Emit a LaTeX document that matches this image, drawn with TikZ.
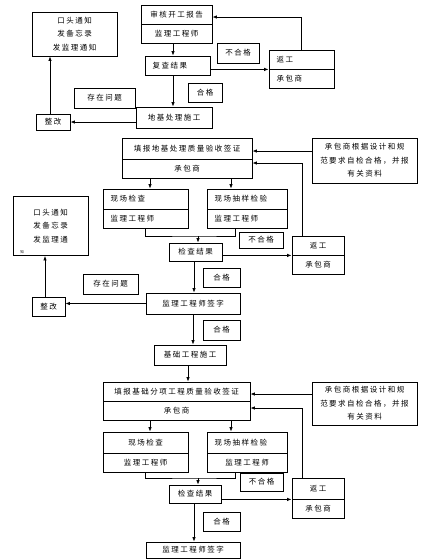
\documentclass[tikz,border=0pt]{standalone}
\usepackage{fontspec}
\newfontfamily\cjk[LetterSpace=20]{Noto Sans CJK SC}
\usepackage{tikz}
\usetikzlibrary{arrows.meta}
\tikzset{
  box/.style={draw, line width=0.8pt, inner sep=0pt, minimum height=19pt,
    font=\cjk\fontsize{7.5}{13.5}\selectfont, align=center},
  lbox/.style={box, inner xsep=7.5pt, align=left},
  flow/.style={line width=0.8pt, -{Latex[length=4.5pt,width=3.5pt]}},
  link/.style={line width=0.8pt}
}

\begin{document}
\begin{tikzpicture}[x=1pt,y=-1pt]
    \useasboundingbox (0,0) rectangle (424,560);
    \node[box, minimum width=85pt, minimum height=44pt] (tzA) at (74.5,34) {口头通知\\发备忘录\\发监理通知};
    \node[box, minimum width=71pt] (shA) at (176.5,14.5) {审核开工报告};
    \node[box, minimum width=71pt] (shB) at (176.5,33.5) {监理工程师};
    \node[lbox, text width=50pt] (fcA) at (177.5,65.5) {复查结果};
    \node[box, minimum width=42pt, minimum height=20pt] (bhgA) at (238,53) {不合格};
    \node[lbox, text width=50pt] (fgA) at (301.5,59.5) {返工};
    \node[lbox, text width=50pt] (fgB) at (301.5,78.5) {承包商};
    \node[box, minimum width=34pt] (hgA) at (205,92.5) {合格};
    \node[box, minimum width=76pt, minimum height=21pt] (djA) at (174,117.5) {地基处理施工};
    \node[box, minimum width=61pt, minimum height=20pt] (czA) at (104.5,98) {存在问题};
    \node[box, minimum width=34pt, minimum height=16pt] (zgA) at (53,122) {整改};
    \draw[flow] (shB.south -| 173,0) -- (fcA.north -| 173,0);
    \draw[flow] (fcA.east |- fgA.south west) -- (fgA.south west);
    \draw[flow] (fgA.north) |- ([yshift=-2.5pt]shA.east);
    \draw[flow] (fcA.south -| 173,0) -- (djA.north -| 173,0);
    \draw[flow] (djA.west |- zgA.east) -- (zgA.east);
    \draw[flow] (zgA.north -| 50,0) -- (tzA.south -| 50,0);

    \node[box, minimum width=130pt, minimum height=21pt] (tjA) at (187,148.5) {填报地基处理质量验收签证};
    \node[box, minimum width=130pt] (tjB) at (187,168.5) {承包商};
    \node[box, minimum width=105pt, minimum height=45pt, text width=96pt, inner xsep=4.5pt] (cbA) at (364.5,160.5) {承包商根据设计和规\\范要求自检合格，并报\\有关资料};
    \node[lbox, text width=70pt, minimum height=20pt] (xcA) at (145.5,199) {现场检查};
    \node[lbox, text width=70pt] (xcB) at (145.5,218.5) {监理工程师};
    \node[lbox, text width=65pt, minimum height=20pt] (cyA) at (247,199) {现场抽样检验};
    \node[lbox, text width=65pt] (cyB) at (247,218.5) {监理工程师};
    \node[box, minimum width=53pt, minimum height=18pt] (jcA) at (195.5,252) {检查结果};
    \node[box, minimum width=44pt, minimum height=16pt] (bhgB) at (261,240) {不合格};
    \node[box, minimum width=52pt] (fgC) at (318,245.5) {返工};
    \node[box, minimum width=52pt] (fgD) at (318,264.5) {承包商};
    \node[box, minimum width=37pt] (hgB) at (221.5,277.5) {合格};
    \node[box, minimum width=75pt, minimum height=59pt] (tzB) at (50.5,226) {口头通知\\发备忘录\\发监理通};
    \node[font=\cjk\fontsize{3.5}{4}\selectfont, inner sep=0pt] (tzBz) at (22,252) {知};
    \node[box, minimum width=55pt, minimum height=20pt] (czB) at (110.5,284) {存在问题};
    \node[box, minimum width=33pt] (zgB) at (48.5,306.5) {整改};
    \node[box, minimum width=94pt, minimum height=21pt] (qzA) at (193,303.5) {监理工程师签字};
    \node[box, minimum width=37pt, minimum height=20pt] (hgC) at (221.5,330) {合格};
    \node[box, minimum width=72pt, minimum height=20pt] (jcC) at (190,355) {基础工程施工};
    \coordinate (mgA) at (198,236);
    \draw[flow] (cbA.west |- 0,151) -- (tjA.east |- 0,151);
    \draw[flow] ([xshift=-16pt]fgC.north) |- ([yshift=5.5pt]tjB.east);
    \draw[flow] (tjB.south -| 150,0) -- (xcA.north -| 150,0);
    \draw[flow] (tjB.south -| 231,0) -- (cyA.north -| 231,0);
    \draw[link] (xcB.south -| 145,0) |- (mgA) -| (cyB.south -| 235,0);
    \draw[flow] (mgA) -- (jcA.north -| 198,0);
    \draw[flow] (jcA.east |- fgC.south west) -- (fgC.south west);
    \draw[flow] (jcA.south -| 194,0) -- (qzA.north -| 194,0);
    \draw[flow] (qzA.west) -- (qzA.west -| zgB.east);
    \draw[flow] (zgB.north -| 45,0) -- (tzB.south -| 45,0);
    \draw[flow] (qzA.south -| 193,0) -- (jcC.north -| 193,0);

    \node[box, minimum width=147pt] (tjC) at (176.5,391.5) {填报基础分项工程质量验收签证};
    \node[box, minimum width=147pt] (tjD) at (176.5,410.5) {承包商};
    \node[box, minimum width=105pt, minimum height=43pt, text width=96pt, inner xsep=4.5pt] (cbB) at (364.5,403.5) {承包商根据设计和规\\范要求自检合格，并报\\有关资料};
    \node[box, minimum width=85pt, minimum height=21pt] (xcC) at (145.5,442.5) {现场检查};
    \node[box, minimum width=85pt] (xcD) at (145.5,462.5) {监理工程师};
    \node[lbox, text width=65pt, minimum height=21pt] (cyC) at (247,442.5) {现场抽样检验};
    \node[box, minimum width=80pt] (cyD) at (247,462.5) {监理工程师};
    \node[box, minimum width=52pt, minimum height=18pt] (jcB) at (195,494) {检查结果};
    \node[box, minimum width=43pt, minimum height=18pt] (bhgC) at (261.5,482) {不合格};
    \node[box, minimum width=52pt, minimum height=21pt] (fgE) at (318,488.5) {返工};
    \node[box, minimum width=52pt] (fgF) at (318,508.5) {承包商};
    \node[box, minimum width=37pt] (hgD) at (221.5,521.5) {合格};
    \node[box, minimum width=94pt, minimum height=16pt] (qzB) at (193,550) {监理工程师签字};
    \coordinate (mgC) at (198,478);
    \draw[flow] (jcC.south -| 188,0) -- (tjC.north -| 188,0);
    \draw[flow] (cbB.west |- 0,394) -- (tjC.east |- 0,394);
    \draw[flow] ([xshift=-16pt]fgE.north) |- ([yshift=2.5pt]tjD.east);
    \draw[flow] (tjD.south -| 150,0) -- (xcC.north -| 150,0);
    \draw[flow] (tjD.south -| 231,0) -- (cyC.north -| 231,0);
    \draw[link] (xcD.south -| 145,0) |- (mgC) -| (cyD.south -| 235,0);
    \draw[flow] (mgC) -- (jcB.north -| 198,0);
    \draw[flow] (jcB.east |- fgE.south west) -- (fgE.south west);
    \draw[flow] (jcB.south -| 194,0) -- (qzB.north -| 194,0);
\end{tikzpicture}
\end{document}
